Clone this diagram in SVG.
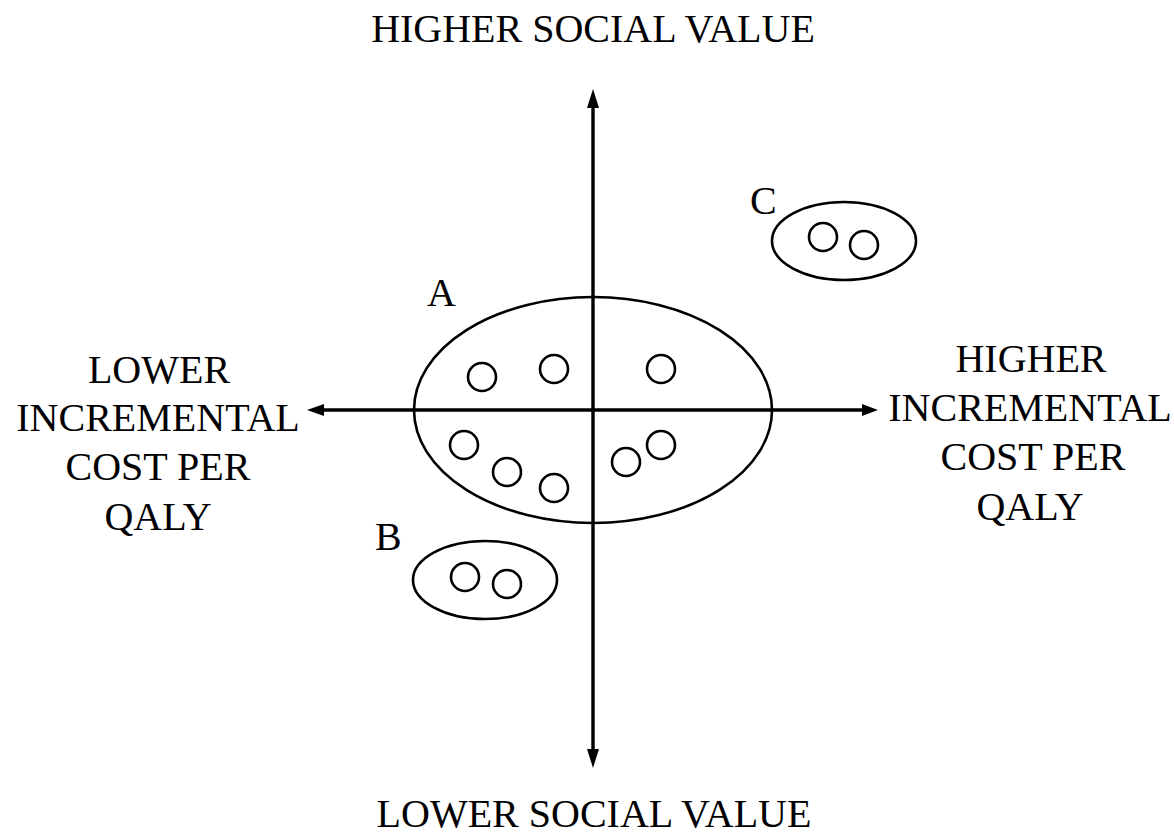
<svg xmlns="http://www.w3.org/2000/svg" width="1174" height="836" viewBox="0 0 1174 836">
<style>
text{font-family:"Liberation Serif","Times New Roman",serif;font-size:40px;fill:#000}
.mid{text-anchor:middle}
.axis{stroke:#000;stroke-width:3.4;fill:none}
.grp{stroke:#000;stroke-width:2.6;fill:none}
.dot{stroke:#000;stroke-width:2.6;fill:#fff}
.head{fill:#000;stroke:none}
</style>
<rect width="1174" height="836" fill="#fff"/>
<g id="connectors">
<line class="axis" x1="593" y1="100" x2="593" y2="758"/>
<line class="axis" x1="316" y1="410" x2="870" y2="410"/>
<path class="head" d="M593,89 L599,108 L587,108 Z"/>
<path class="head" d="M593,768 L599,749 L587,749 Z"/>
<path class="head" d="M307,410 L324,404 L324,416 Z"/>
<path class="head" d="M878,410 L862,404 L862,416 Z"/>
</g>
<g id="labels">
<text class="mid" x="593" y="42">HIGHER SOCIAL VALUE</text>
<text class="mid" x="594" y="827">LOWER SOCIAL VALUE</text>
<g id="left-label">
<text class="mid" x="159" y="383">LOWER</text>
<text class="mid" x="158" y="431">INCREMENTAL</text>
<text class="mid" x="158" y="480">COST PER</text>
<text class="mid" x="158" y="530">QALY</text>
</g>
<g id="right-label">
<text class="mid" x="1031" y="372">HIGHER</text>
<text class="mid" x="1030" y="421">INCREMENTAL</text>
<text class="mid" x="1033" y="470">COST PER</text>
<text class="mid" x="1030" y="520">QALY</text>
</g>
</g>
<g id="group-A">
<ellipse class="grp" cx="593" cy="410" rx="179" ry="113"/>
<text x="427" y="306">A</text>
<circle class="dot" cx="482" cy="377" r="14"/>
<circle class="dot" cx="554" cy="369" r="14"/>
<circle class="dot" cx="661" cy="369" r="14"/>
<circle class="dot" cx="464" cy="445" r="14"/>
<circle class="dot" cx="507" cy="472" r="14"/>
<circle class="dot" cx="554" cy="488" r="14"/>
<circle class="dot" cx="626" cy="462" r="14"/>
<circle class="dot" cx="661" cy="445" r="14"/>
</g>
<g id="group-B">
<ellipse class="grp" cx="485" cy="580" rx="72" ry="39"/>
<text x="375" y="550">B</text>
<circle class="dot" cx="465" cy="577" r="14"/>
<circle class="dot" cx="507" cy="584" r="14"/>
</g>
<g id="group-C">
<ellipse class="grp" cx="844" cy="241" rx="72" ry="39"/>
<text x="750" y="214">C</text>
<circle class="dot" cx="823" cy="237" r="14"/>
<circle class="dot" cx="864" cy="245" r="14"/>
</g>
</svg>
